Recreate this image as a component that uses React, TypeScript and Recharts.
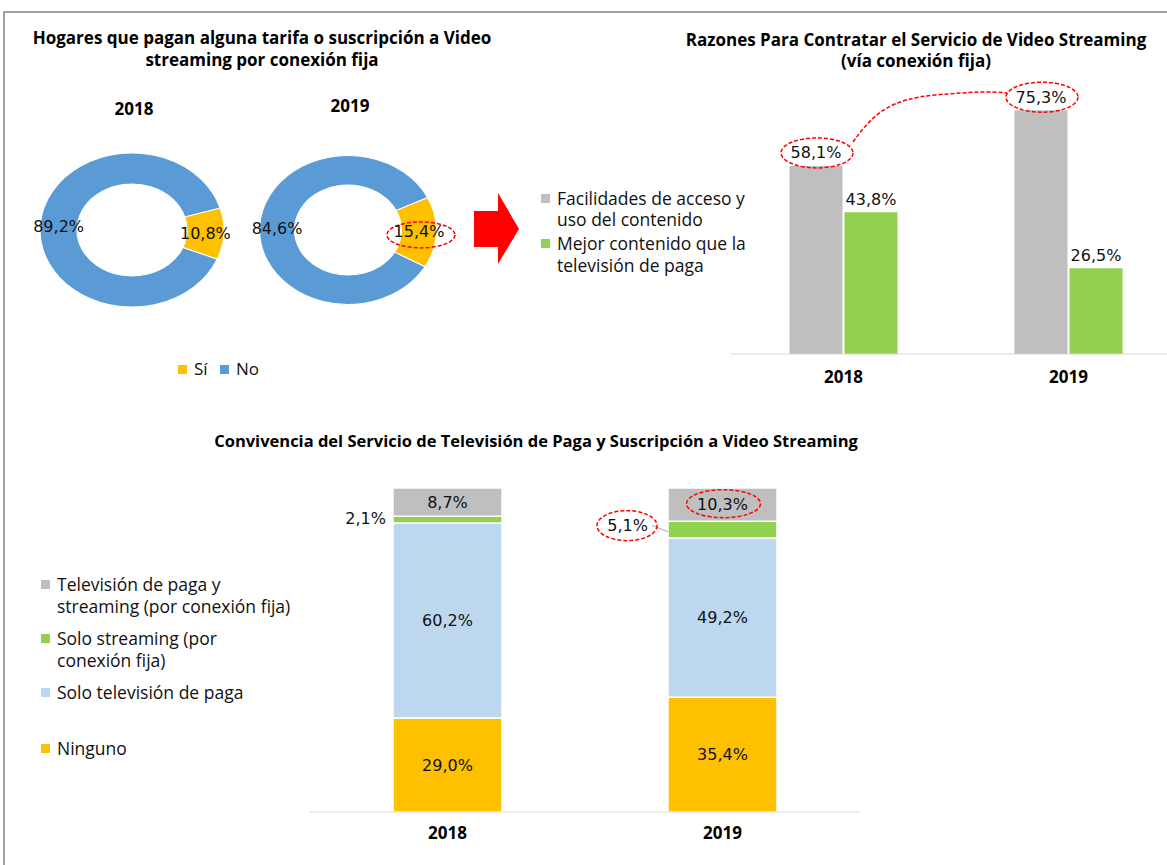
import React from "react";
import { PieChart, Pie, Cell, BarChart, Bar, XAxis, YAxis, LabelList } from "recharts";

const anios = ["2018", "2019"];

// Hogares que pagan alguna tarifa (donas)
const pagaSi = [10.8, 15.4];
const pagaNo = [89.2, 84.6];
const donaLeyenda = ["Sí", "No"];

// Razones para contratar
const razonesSeries = ["Facilidades de acceso y\nuso del contenido", "Mejor contenido que la\ntelevisión de paga"];
const facilidades = [58.1, 75.3];
const mejorContenido = [43.8, 26.5];

// Convivencia TV de paga / streaming
const convSeries = [
  "Televisión de paga y\nstreaming (por conexión fija)",
  "Solo streaming (por\nconexión fija)",
  "Solo televisión de paga",
  "Ninguno",
];
const ninguno = [29.0, 35.4];
const soloTv = [60.2, 49.2];
const soloStreaming = [2.1, 5.1];
const tvYStreaming = [8.7, 10.3];

const AMARILLO = "#ffc000";
const AZUL = "#5b9bd5";
const GRIS = "#bfbfbf";
const VERDE = "#92d050";
const CELESTE = "#bdd7ee";
const ROJO = "#ff0000";

const SANS = "'Open Sans', 'DejaVu Sans', sans-serif";
const NUM = "'DejaVu Sans', Verdana, sans-serif";
const RAD = Math.PI / 180;
const TAM_NUM = 16;

const fmt = (v: number) => v.toFixed(1).replace(".", ",") + "%";

const Elipse = ({ cx, cy, rx, ry }: { cx: number; cy: number; rx: number; ry: number }) => (
  <ellipse cx={cx} cy={cy} rx={rx} ry={ry} fill="none" stroke={ROJO} strokeWidth={1.5} strokeDasharray="4 2" />
);

function Dona({ idx, cx, cy, ry, inner, sx, start, marcar }: any) {
  const data = [
    { name: donaLeyenda[0], value: pagaSi[idx] },
    { name: donaLeyenda[1], value: pagaNo[idx] },
  ];
  const W = 200;
  const H = 170;
  const label = (p: any) => {
    const r = (p.innerRadius + p.outerRadius) / 2;
    const x = p.cx + r * Math.cos(-p.midAngle * RAD);
    const y = p.cy + r * Math.sin(-p.midAngle * RAD);
    return (
      <g transform={`translate(${x},${y}) scale(${1 / sx},1)`}>
        {marcar && p.index === 0 && <Elipse cx={2} cy={3} rx={34} ry={13} />}
        <text x={0} y={0} textAnchor="middle" dominantBaseline="central" fill="#111" fontSize={TAM_NUM} fontFamily={NUM}>
          {fmt(p.value)}
        </text>
      </g>
    );
  };
  return (
    <div
      style={{
        position: "absolute",
        left: cx - W / 2,
        top: cy - H / 2,
        width: W,
        height: H,
        transform: `scaleX(${sx})`,
        transformOrigin: "50% 50%",
      }}
    >
      <PieChart width={W} height={H} margin={{ top: 0, right: 0, bottom: 0, left: 0 }} style={{ overflow: "visible" }}>
        <Pie
          data={data}
          dataKey="value"
          cx={W / 2}
          cy={H / 2}
          innerRadius={inner}
          outerRadius={ry}
          startAngle={start}
          endAngle={start - 360}
          stroke="#fff"
          strokeWidth={1}
          label={label}
          labelLine={false}
          isAnimationActive={false}
        >
          <Cell fill={AMARILLO} />
          <Cell fill={AZUL} />
        </Pie>
      </PieChart>
    </div>
  );
}

// y = centro de la primera línea
const Texto = ({ cx, y, children, size = 17, bold = true, family = SANS, lh = 22 }: any) => (
  <div
    style={{
      position: "absolute",
      left: cx - 400,
      width: 800,
      top: y - lh / 2,
      lineHeight: lh + "px",
      textAlign: "center",
      fontFamily: family,
      fontSize: size,
      fontWeight: bold ? 700 : 400,
      color: "#000",
      whiteSpace: "pre",
    }}
  >
    {children}
  </div>
);

const LeyendaItem = ({ x, y, color, text, lh = 22, size = 17.5 }: any) => (
  <div style={{ position: "absolute", left: x, top: y - lh / 2, fontFamily: SANS, fontSize: size, lineHeight: lh + "px", color: "#111" }}>
    <span style={{ position: "absolute", left: 0, top: lh / 2 - 4, width: 9, height: 9, background: color }} />
    <span style={{ position: "absolute", left: 16, top: 0, whiteSpace: "pre" }}>{text}</span>
  </div>
);

const vb = (p: any) => {
  const v = p.viewBox || {};
  return { x: p.x ?? v.x, y: p.y ?? v.y, w: p.width ?? v.width, h: p.height ?? v.height };
};

const etiquetaArriba = (marcar: boolean) => (p: any) => {
  const { x, y, w } = vb(p);
  const cx = x + w / 2;
  const cy = y - 13;
  return (
    <g>
      {marcar && <Elipse cx={cx + 1} cy={cy} rx={36} ry={15} />}
      <text x={cx} y={cy} textAnchor="middle" dominantBaseline="central" fill="#111" fontSize={TAM_NUM} fontFamily={NUM}>
        {fmt(p.value)}
      </text>
    </g>
  );
};

const etiquetaCentro = (marcarIdx: number) => (p: any) => {
  const { x, y, w, h } = vb(p);
  const cx = x + w / 2;
  const cy = y + h / 2;
  return (
    <g>
      {p.index === marcarIdx && <Elipse cx={cx + 1} cy={cy - 1} rx={37} ry={14} />}
      <text x={cx} y={cy} textAnchor="middle" dominantBaseline="central" fill="#111" fontSize={TAM_NUM} fontFamily={NUM}>
        {fmt(p.value)}
      </text>
    </g>
  );
};

const etiquetaIzquierda = (p: any) => {
  const { x, y, h } = vb(p);
  const cy = y + h / 2;
  const lejos = p.index === 1;
  const fin = lejos ? x - 20 : x - 7;
  const ty = lejos ? cy - 4 : cy - 1;
  return (
    <g>
      {lejos && <line x1={x - 16} y1={ty} x2={x} y2={cy + 2} stroke="#a6a6a6" strokeWidth={1} />}
      {lejos && <Elipse cx={fin - 21} cy={ty} rx={30} ry={15} />}
      <text x={fin} y={ty} textAnchor="end" dominantBaseline="central" fill="#111" fontSize={TAM_NUM} fontFamily={NUM}>
        {fmt(p.value)}
      </text>
    </g>
  );
};

const ejeX = {
  axisLine: { stroke: "#d9d9d9" },
  tickLine: false,
  tick: { fill: "#000", fontSize: 17, fontWeight: 700, fontFamily: SANS },
};

export default function App() {
  const razonesData = anios.map((a, i) => ({ anio: a, facilidades: facilidades[i], mejor: mejorContenido[i] }));
  const convData = anios.map((a, i) => ({
    anio: a,
    ninguno: ninguno[i],
    soloTv: soloTv[i],
    soloStreaming: soloStreaming[i],
    tvYStreaming: tvYStreaming[i],
  }));

  return (
    <div style={{ position: "fixed", left: 0, top: 0, width: 1167, height: 865, overflow: "hidden", background: "#fff" }}>
      <div style={{ position: "absolute", left: 3, top: 11, width: 1200, height: 900, border: "2px solid #a0a0a0" }} />

      {/* Donas */}
      <Texto cx={262} y={38} lh={22}>{"Hogares que pagan alguna tarifa o suscripción a Video\nstreaming por conexión fija"}</Texto>
      <Texto cx={134} y={109}>{anios[0]}</Texto>
      <Texto cx={350} y={106}>{anios[1]}</Texto>
      <Dona idx={0} cx={132} cy={230} ry={77} inner={46} sx={1.195} start={16.6} marcar={false} />
      <Dona idx={1} cx={347.5} cy={229.5} ry={74.5} inner={45} sx={1.188} start={25.9} marcar={true} />
      <LeyendaItem x={178} y={369} color={AMARILLO} text={donaLeyenda[0]} size={17} />
      <LeyendaItem x={220} y={369} color={AZUL} text={donaLeyenda[1]} size={17} />

      {/* Flecha y curva */}
      <svg style={{ position: "absolute", left: 0, top: 0 }} width={1167} height={865}>
        <polygon points="474,211 498,211 498,193 519,229 498,264 498,247 474,247" fill={ROJO} />
        <path d="M853,142 C874,112 892,99 935,95 C970,92 992,91 1007,93" fill="none" stroke={ROJO} strokeWidth={1.5} strokeDasharray="4 2" />
      </svg>

      {/* Razones */}
      <Texto cx={916} y={39} lh={21}>{"Razones Para Contratar el Servicio de Video Streaming\n(vía conexión fija)"}</Texto>
      <LeyendaItem x={541} y={198} color={GRIS} text={razonesSeries[0]} lh={21} />
      <LeyendaItem x={541} y={243} color={VERDE} text={razonesSeries[1]} lh={22} />
      <div style={{ position: "absolute", left: 731, top: 65 }}>
        <BarChart width={450} height={329} data={razonesData} margin={{ top: 30, right: 0, bottom: 0, left: 0 }} barGap={2} barCategoryGap="26%" style={{ overflow: "visible" }}>
          <XAxis dataKey="anio" {...ejeX} tickMargin={11} height={40} />
          <YAxis hide domain={[0, 80]} />
          <Bar dataKey="facilidades" fill={GRIS} isAnimationActive={false}>
            <LabelList dataKey="facilidades" content={etiquetaArriba(true)} />
          </Bar>
          <Bar dataKey="mejor" fill={VERDE} isAnimationActive={false}>
            <LabelList dataKey="mejor" content={etiquetaArriba(false)} />
          </Bar>
        </BarChart>
      </div>

      {/* Convivencia */}
      <Texto cx={536} y={441} size={16.5}>{"Convivencia del Servicio de Televisión de Paga y Suscripción a Video Streaming"}</Texto>
      <LeyendaItem x={41} y={584} color={GRIS} text={convSeries[0]} />
      <LeyendaItem x={41} y={638} color={VERDE} text={convSeries[1]} />
      <LeyendaItem x={41} y={692} color={CELESTE} text={convSeries[2]} />
      <LeyendaItem x={41} y={748} color={AMARILLO} text={convSeries[3]} />
      <div style={{ position: "absolute", left: 310, top: 468 }}>
        <BarChart width={550} height={389} data={convData} margin={{ top: 20, right: 0, bottom: 0, left: 0 }} barSize={109} style={{ overflow: "visible" }}>
          <XAxis dataKey="anio" {...ejeX} tickMargin={9} height={45} />
          <YAxis hide domain={[0, 100]} />
          <Bar dataKey="ninguno" stackId="c" fill={AMARILLO} stroke="#fff" strokeWidth={1.5} isAnimationActive={false}>
            <LabelList dataKey="ninguno" content={etiquetaCentro(-1)} />
          </Bar>
          <Bar dataKey="soloTv" stackId="c" fill={CELESTE} stroke="#fff" strokeWidth={1.5} isAnimationActive={false}>
            <LabelList dataKey="soloTv" content={etiquetaCentro(-1)} />
          </Bar>
          <Bar dataKey="soloStreaming" stackId="c" fill={VERDE} stroke="#fff" strokeWidth={1.5} isAnimationActive={false}>
            <LabelList dataKey="soloStreaming" content={etiquetaIzquierda} />
          </Bar>
          <Bar dataKey="tvYStreaming" stackId="c" fill={GRIS} stroke="#fff" strokeWidth={1.5} isAnimationActive={false}>
            <LabelList dataKey="tvYStreaming" content={etiquetaCentro(1)} />
          </Bar>
        </BarChart>
      </div>
    </div>
  );
}
